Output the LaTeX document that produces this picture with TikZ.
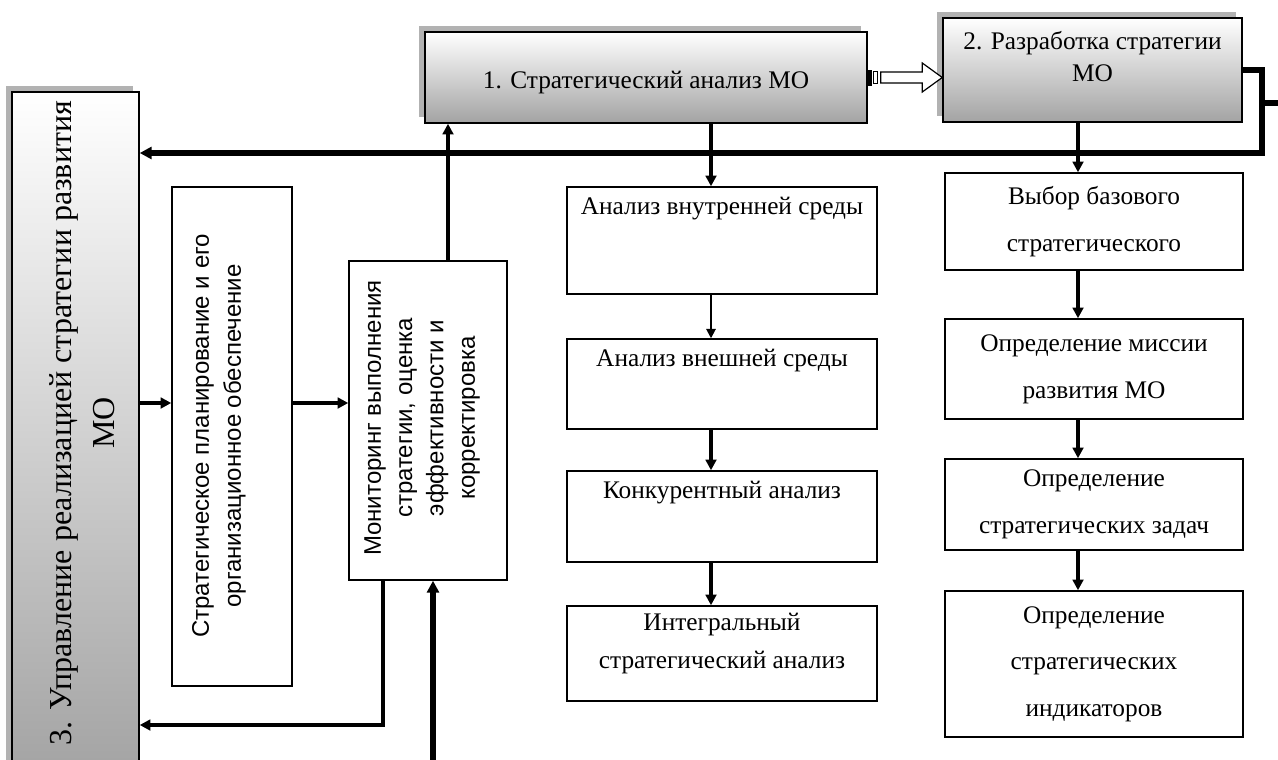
\documentclass[tikz,border=0pt]{standalone}
\usepackage{fontspec}
\setmainfont{Liberation Serif}
\newfontfamily\arialfont{Liberation Sans}
\usetikzlibrary{arrows.meta,positioning,fit,calc,shadows}

\begin{document}
\begin{tikzpicture}[
  x=0.75pt, y=-0.75pt,
  font=\fontsize{19}{28}\selectfont,
  box/.style={draw=black,line width=1.1pt,inner sep=0pt},
  grad/.style={box,top color=white,bottom color=black!36,
    drop shadow={shadow xshift=-4.5pt,shadow yshift=4.5pt,fill=black!30,opacity=1}},
  txt/.style={align=center,inner sep=0pt},
  vtxt/.style={txt,rotate=90,font=\arialfont\fontsize{18}{23.5}\selectfont},
  ar/.style={-{Triangle[length=8pt,width=8pt]},line width=2.6pt},
  thinar/.style={-{Triangle[length=7pt,width=7pt]},line width=1.4pt},
  fatar/.style={-{Triangle[length=9pt,width=9pt]},line width=3.8pt},
  hollow/.style={draw=black,line width=0.9pt,fill=white}
]
\useasboundingbox (0,0) rectangle (1278,760);
\clip (0,0) rectangle (1278,760);

% top row
\node[grad,fit={(425,32) (867,123)}] (strat) {};
\node[txt] (stratt) at ([yshift=-4pt]strat.center) {1. Стратегический анализ МО};
\node[grad,fit={(943,18) (1242,122)}] (dev) {};
\node[txt,below=10pt of dev.north,font=\fontsize{19}{24}\selectfont] (devt) {2. Разработка стратегии\\МО};

% left column
\node[grad,fit={(12,92) (139,775)}] (mgmt) {};
\node[txt,rotate=90,font=\fontsize{24}{32}\selectfont] (mgmtt) at (82,423)
  {3. Управление реализацией стратегии развития\\МО};
\node[box,fit={(172,187) (292,686)}] (plan) {};
\node[vtxt,font=\arialfont\fontsize{18}{24}\selectfont] (plant) at (219,436)
  {Стратегическое планирование и его\\организационное обеспечение};
\node[box,fit={(349,261) (507,580)}] (mon) {};
\node[vtxt] (mont) at (422,418)
  {Мониторинг выполнения\\стратегии, оценка\\эффективности и\\корректировка};

% analysis column
\node[box,fit={(567,187) (877,294)}] (anA) {};
\node[txt,below=8pt of anA.north] (anAt) {Анализ внутренней среды};
\node[box,fit={(567,339) (877,429)}] (anB) {};
\node[txt,below=8pt of anB.north] (anBt) {Анализ внешней среды};
\node[box,fit={(567,471) (877,562)}] (anC) {};
\node[txt,below=8pt of anC.north] (anCt) {Конкурентный анализ};
\node[box,fit={(567,606) (877,701)}] (anD) {};
\node[txt,below=6pt of anD.north] (anDt) {Интегральный\\стратегический анализ};

% strategy column
\node[box,fit={(945,173) (1243,270)}] (stA) {};
\node[txt,font=\fontsize{19}{35}\selectfont] (stAt) at (stA.center) {Выбор базового\\стратегического};
\node[box,fit={(945,319) (1243,419)}] (stB) {};
\node[txt,font=\fontsize{19}{35}\selectfont] (stBt) at (stB.center) {Определение миссии\\развития МО};
\node[box,fit={(945,459) (1243,550)}] (stC) {};
\node[txt,font=\fontsize{19}{35}\selectfont] (stCt) at (stC.center) {Определение\\стратегических задач};
\node[box,fit={(945,591) (1243,737)}] (stD) {};
\node[txt,font=\fontsize{19}{35}\selectfont] (stDt) at (stD.center) {Определение\\стратегических\\индикаторов};

% helper coordinates
\coordinate (busR) at (1262,153);
\coordinate (stub) at (1262,103);
\coordinate (lvl) at (0,403);
\coordinate (upx) at (448,0);
\coordinate (colA) at (711,0);
\coordinate (colR) at (1078,0);
\coordinate (retx) at (383,725);
\coordinate (inx) at (433,775);

% block arrow 1 -> 2
\fill ($(strat.east)+(0,-8)$) rectangle ++(4,16);
\draw[line width=0.9pt] ($(strat.east)+(6,-6)$) rectangle ++(4,12);
\draw[hollow] ($(strat.east)+(13,-5.5)$) -- ($(dev.west|-strat.east)+(-20,-5.5)$)
  -- ++(0,-9) -- (dev.west|-strat.east) -- ++(-20,14.5) -- ++(0,-9)
  -- ($(strat.east)+(13,5.5)$) -- cycle;

% feedback bus
\draw[fatar] (dev.east) -| (busR) -- (mgmt.east|-busR);
\draw[line width=3.8pt] (stub) -- ++(20,0);

% connectors
\draw[ar] (mgmt.east|-lvl) -- (plan.west|-lvl);
\draw[ar] (plan.east|-lvl) -- (mon.west|-lvl);
\draw[ar] (mon.north-|upx) -- (strat.south-|upx);
\draw[ar] (mon.south-|retx) |- (mgmt.east|-retx);
\draw[fatar] (inx) -- (mon.south-|inx);

\draw[ar] (strat.south-|colA) -- (anA.north-|colA);
\draw[thinar] (anA.south-|colA) -- (anB.north-|colA);
\draw[ar] (anB.south-|colA) -- (anC.north-|colA);
\draw[ar] (anC.south-|colA) -- (anD.north-|colA);

\draw[ar] (dev.south-|colR) -- (stA.north-|colR);
\draw[ar] (stA.south-|colR) -- (stB.north-|colR);
\draw[ar] (stB.south-|colR) -- (stC.north-|colR);
\draw[ar] (stC.south-|colR) -- (stD.north-|colR);
\end{tikzpicture}
\end{document}
